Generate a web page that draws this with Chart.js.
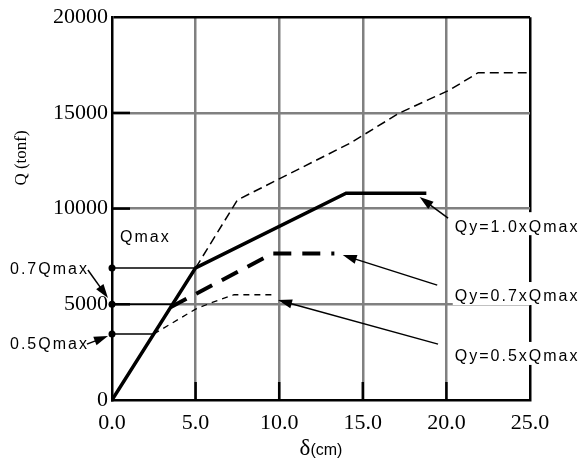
<!DOCTYPE html>
<html>
<head>
<meta charset="utf-8">
<script src="https://cdn.jsdelivr.net/npm/chart.js@4"></script>
<style>
  body { margin: 0; background: #fff; }
</style>
</head>
<body>
<canvas id="myChart" width="581" height="464"></canvas>
<script>
// break points of each curve: δ (cm) and Q (tonf)
var elasticX = [5.0, 7.5, 10.0, 14.2, 17.2, 20.2, 21.9, 24.8];
var elasticQ = [6900, 10450, 11550, 13400, 15000, 16200, 17100, 17100];

var qy10X = [0, 5.0, 14.0, 18.8];
var qy10Q = [0, 6900, 10800, 10800];

var qy07X = [3.5, 9.6, 13.3];
var qy07Q = [4850, 7650, 7650];

var qy05X = [2.5, 5.0, 6.0, 7.3, 9.7];
var qy05Q = [3450, 4750, 5100, 5500, 5500];

// levels marked on the Q axis (Qmax, 0.7Qmax, 0.5Qmax) and where their lines stop
var refLevels = [6900, 5000, 3450];
var refEndX = [5.0, 3.6, 2.5];

// curve labels on the right and what their arrows point at
var curveLabels = ['Qy=1.0xQmax', 'Qy=0.7xQmax', 'Qy=0.5xQmax'];
var curveLabelX = [20.5, 20.5, 20.5];
var curveLabelQ = [9030, 5380, 2250];
var curveArrowFrom = [[20.1, 9500], [19.45, 6000], [19.5, 2920]];
var curveArrowTo = [[18.4, 10600], [13.8, 7570], [9.93, 5220]];

// labels on the left of the Q axis
var levelLabels = ['Qmax', '0.7Qmax', '0.5Qmax'];
var levelLabelX = [0.48, -6.1, -6.1];
var levelLabelQ = [8460, 6790, 2880];
var levelArrowFrom = [null, [-1.44, 6790], [-1.5, 2920]];
var levelArrowTo = [null, [-0.24, 5330], [-0.24, 3340]];

var serif = "'Times New Roman', 'Liberation Serif', serif";
var sans = "Arial, 'Liberation Sans', sans-serif";

function pts(xs, ys) {
    return xs.map(function (x, i) { return { x: x, y: ys[i] }; });
}

function arrow(ctx, x1, y1, x2, y2) {
    var a = Math.atan2(y2 - y1, x2 - x1);
    var c = Math.cos(a), s = Math.sin(a);
    ctx.beginPath();
    ctx.moveTo(x1, y1);
    ctx.lineTo(x2 - 10 * c, y2 - 10 * s);
    ctx.stroke();
    ctx.beginPath();
    ctx.moveTo(x2, y2);
    ctx.lineTo(x2 - 14 * c + 4.5 * s, y2 - 14 * s - 4.5 * c);
    ctx.lineTo(x2 - 14 * c - 4.5 * s, y2 - 14 * s + 4.5 * c);
    ctx.closePath();
    ctx.fill();
}

var refSets = refLevels.map(function (q, i) {
    return {
        data: [{ x: 0, y: q }, { x: refEndX[i], y: q }],
        borderColor: '#000',
        borderWidth: 1.5,
        pointRadius: [3.5, 0],
        pointBackgroundColor: '#000',
        pointBorderWidth: 0,
        clip: false
    };
});

var curveSets = [
    { data: pts(elasticX, elasticQ), borderColor: '#000', borderWidth: 1.5, borderDash: [9, 5], pointRadius: 0 },
    { data: pts(qy07X, qy07Q), borderColor: '#000', borderWidth: 4, borderDash: [18, 11], pointRadius: 0 },
    { data: pts(qy05X, qy05Q), borderColor: '#000', borderWidth: 1.3, borderDash: [6, 5], pointRadius: 0 },
    { data: pts(qy10X, qy10Q), borderColor: '#000', borderWidth: 3.5, pointRadius: 0 }
];

// inner tick marks, axis titles, labels and arrows
var decorations = {
    id: 'decorations',
    afterDatasetsDraw: function (chart) {
        var ctx = chart.ctx;
        var xs = chart.scales.x, ys = chart.scales.y;
        var area = chart.chartArea;
        ctx.save();

        ctx.strokeStyle = '#000';
        ctx.fillStyle = '#000';
        ctx.lineWidth = 2.5;
        [5000, 10000, 15000].forEach(function (v) {
            var y = ys.getPixelForValue(v);
            ctx.beginPath(); ctx.moveTo(area.left, y); ctx.lineTo(area.left + 18, y); ctx.stroke();
        });
        [5, 10, 15, 20].forEach(function (v) {
            var x = xs.getPixelForValue(v);
            ctx.beginPath(); ctx.moveTo(x, area.bottom); ctx.lineTo(x, area.bottom - 18); ctx.stroke();
        });

        // axis titles
        ctx.textBaseline = 'middle';
        ctx.textAlign = 'center';
        ctx.save();
        ctx.translate(22, 158);
        ctx.rotate(-Math.PI / 2);
        ctx.font = '17px ' + serif;
        ctx.fillText('Q (tonf)', 0, 0);
        ctx.restore();

        ctx.textBaseline = 'alphabetic';
        ctx.textAlign = 'left';
        ctx.font = '23px ' + serif;
        var wd = ctx.measureText('δ').width;
        ctx.font = '16px ' + sans;
        var wc = ctx.measureText('(cm)').width;
        var cx = (area.left + area.right) / 2 - (wd + wc) / 2;
        ctx.font = '23px ' + serif;
        ctx.fillText('δ', cx, 455);
        ctx.font = '16px ' + sans;
        ctx.fillText('(cm)', cx + wd, 455);

        ctx.lineWidth = 1.5;
        ctx.font = '16px ' + sans;
        ctx.letterSpacing = '2px';
        ctx.textBaseline = 'middle';

        curveLabels.forEach(function (t, i) {
            var a = curveArrowFrom[i], b = curveArrowTo[i];
            arrow(ctx, xs.getPixelForValue(a[0]), ys.getPixelForValue(a[1]),
                xs.getPixelForValue(b[0]), ys.getPixelForValue(b[1]));
            var x = xs.getPixelForValue(curveLabelX[i]);
            var y = ys.getPixelForValue(curveLabelQ[i]);
            var w = ctx.measureText(t).width;
            ctx.fillStyle = '#fff';
            ctx.fillRect(x - 2, y - 15, w + 4, 23);
            ctx.fillStyle = '#000';
            ctx.fillText(t, x, y);
        });

        levelLabels.forEach(function (t, i) {
            if (levelArrowFrom[i]) {
                var a = levelArrowFrom[i], b = levelArrowTo[i];
                arrow(ctx, xs.getPixelForValue(a[0]), ys.getPixelForValue(a[1]),
                    xs.getPixelForValue(b[0]), ys.getPixelForValue(b[1]));
            }
            ctx.fillText(t, xs.getPixelForValue(levelLabelX[i]), ys.getPixelForValue(levelLabelQ[i]));
        });

        ctx.restore();
    }
};

function gridColor(max) {
    return function (c) {
        var v = c.tick ? c.tick.value : null;
        if (v === 0) return 'rgba(0,0,0,0)';
        if (v === max) return '#000';
        return '#808080';
    };
}

var ctx = document.getElementById('myChart').getContext('2d');

var myChart = new Chart(ctx, {
    type: 'scatter',
    data: {
        datasets: refSets.concat(curveSets).map(function (d) {
            d.showLine = true;
            d.fill = false;
            d.tension = 0;
            return d;
        })
    },
    options: {
        responsive: false,
        animation: false,
        layout: { padding: { left: 0, top: 17, right: 51, bottom: 0 } },
        plugins: {
            legend: { display: false },
            tooltip: { enabled: false }
        },
        scales: {
            x: {
                type: 'linear',
                min: 0,
                max: 25,
                afterFit: function (s) { s.height = 64; },
                ticks: {
                    stepSize: 5,
                    padding: 10,
                    color: '#000',
                    font: { family: serif, size: 22 },
                    callback: function (v) { return v.toFixed(1); }
                },
                grid: { color: gridColor(25), lineWidth: 2.5, drawTicks: false },
                border: { color: '#000', width: 2.5 }
            },
            y: {
                type: 'linear',
                min: 0,
                max: 20000,
                afterFit: function (s) { s.width = 112; },
                ticks: {
                    stepSize: 5000,
                    padding: 4,
                    color: '#000',
                    font: { family: serif, size: 22 },
                    callback: function (v) { return String(v); }
                },
                grid: { color: gridColor(20000), lineWidth: 2.5, drawTicks: false },
                border: { color: '#000', width: 2.5 }
            }
        }
    },
    plugins: [decorations]
});
</script>
</body>
</html>
